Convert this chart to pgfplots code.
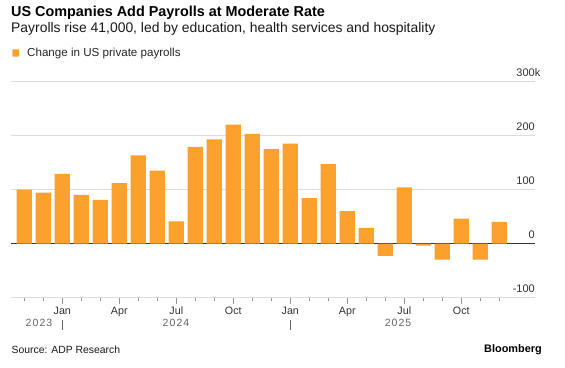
\documentclass[border=0pt]{standalone}
\usepackage{pgfplots}
\pgfplotsset{compat=1.18}
\usepackage{fontspec}
\setmainfont{Liberation Sans}
\definecolor{barorange}{RGB}{252,160,46}
\definecolor{gridgray}{RGB}{220,220,220}
\definecolor{tickgray}{RGB}{150,150,150}
\definecolor{labgray}{RGB}{50,50,50}
\definecolor{yeargray}{RGB}{100,100,100}
\newcommand\fs[1]{\fontsize{#1bp}{#1bp}\selectfont}
\begin{document}
\begin{tikzpicture}[x=1bp,y=1bp]
\useasboundingbox (0,0) rectangle (565,367);
\fill[white] (0,0) rectangle (565,367);
\node[anchor=base west, inner sep=0pt] at (11,351) {\fs{14.4}\bfseries US Companies Add Payrolls at Moderate Rate};
\node[anchor=base west, inner sep=0pt, text=black!90] at (11,335) {\fs{13.9}Payrolls rise 41,000, led by education, health services and hospitality};
\fill[barorange, rounded corners=0.8bp] (12.3,310.3) rectangle (19,317.7);
\node[anchor=base west, inner sep=0pt, text=black!85] at (27,311) {\fs{11.6}Change in US private payrolls};
\node[anchor=base west, inner sep=0pt, text=black!90] at (11.5,14) {\fs{10.4}Source: ADP Research};
\node[anchor=base west, inner sep=0pt] at (484,15) {\fs{10.9}\bfseries Bloomberg};
\begin{axis}[
  at={(11bp,69.5bp)}, anchor=south west,
  scale only axis, width=524bp, height=216bp,
  xmin=-0.7, xmax=26.88, ymin=-100, ymax=300,
  axis x line*=bottom, axis y line*=right,
  x axis line style={draw=gridgray, line width=0.7pt, -},
  y axis line style={draw=none, -},
  ytick={-100,100,200,300}, yticklabels={-100,100,200,300\rlap{k}},
  extra y ticks={0}, extra y tick labels={0},
  extra y tick style={major grid style={draw=black!80, line width=1pt}},
  ymajorgrids, major grid style={draw=gridgray, line width=0.7pt},
  ytick style={draw=none},
  yticklabel style={anchor=base east, font=\fs{11}, text=labgray, inner sep=0pt, xshift=-6bp, yshift=5bp},
  xtick={2,5,8,11,14,17,20,23},
  xticklabels={Jan,Apr,Jul,Oct,Jan,Apr,Jul,Oct},
  minor xtick={0,1,...,25},
  tick align=outside, major tick length=6bp, minor tick length=3bp,
  xtick style={draw=tickgray, line width=0.6pt},
  xticklabel style={anchor=base, font=\fs{10.7}, text=labgray, inner sep=0pt, yshift=-11bp},
  clip=false,
]
\addplot[ybar, bar width=15.3bp, fill=barorange, draw=none] coordinates {
(0,100) (1,94) (2,129) (3,90) (4,81) (5,112) (6,163) (7,135) (8,41) (9,179)
(10,193) (11,220) (12,203) (13,175) (14,185) (15,84) (16,147) (17,60) (18,29)
(19,-23) (20,104) (21,-4) (22,-30) (23,46) (24,-30) (25,40)
};
\end{axis}
\begin{scope}[every node/.style={anchor=base, inner sep=0pt, text=yeargray}]
\node at (39,40.3) {\fs{10.5}\addfontfeature{LetterSpace=10}2023};
\node at (176,40.3) {\fs{10.5}\addfontfeature{LetterSpace=10}2024};
\node at (398,40.3) {\fs{10.5}\addfontfeature{LetterSpace=10}2025};
\end{scope}
\draw[yeargray, line width=0.6pt] (62.3,37) -- (62.3,47);
\draw[yeargray, line width=0.6pt] (290.3,37) -- (290.3,47);
\end{tikzpicture}
\end{document}
